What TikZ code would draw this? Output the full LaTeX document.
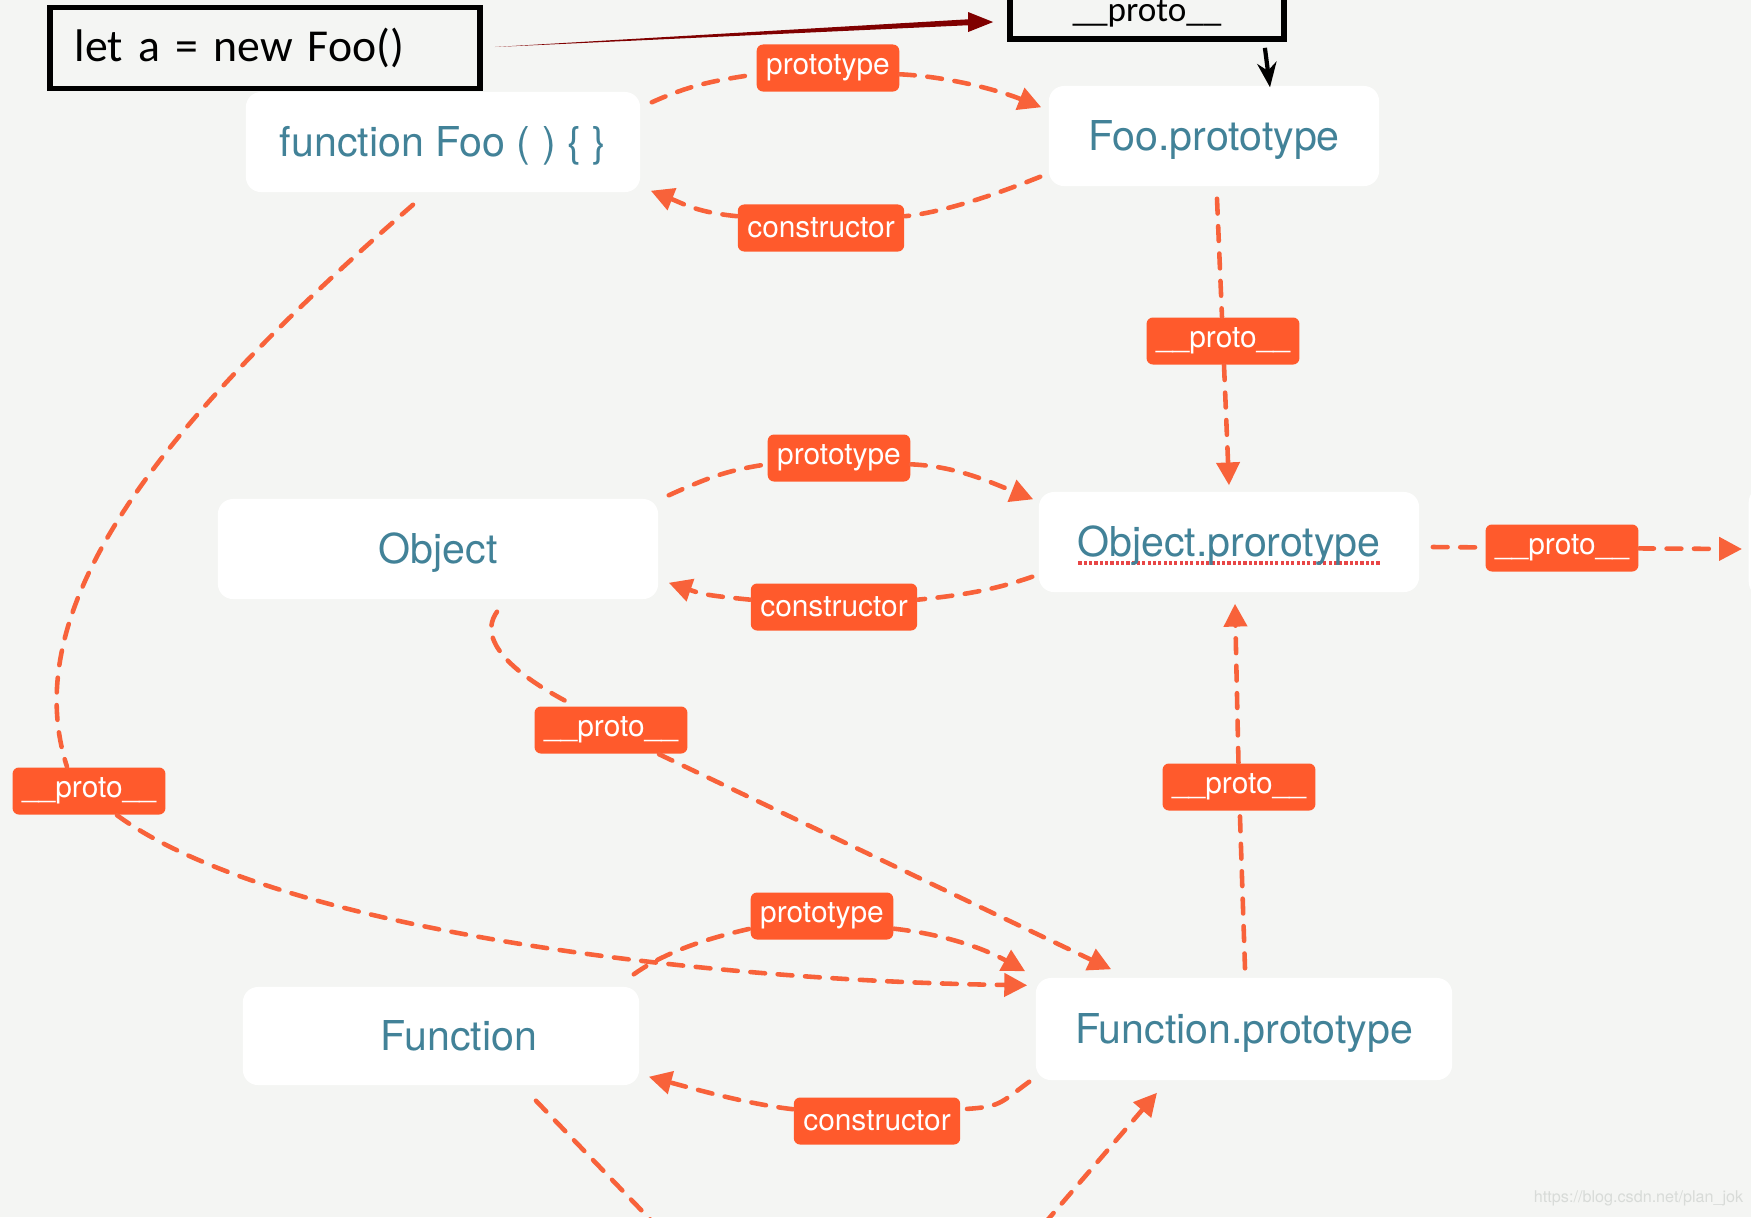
\documentclass[tikz,border=0pt]{standalone}
\usepackage{fontspec}
\usetikzlibrary{arrows.meta,calc}

\newfontfamily\heros{TeX Gyre Heros}
\newfontfamily\calib{Carlito}

\definecolor{bgGray}{RGB}{244,245,243}
\definecolor{boxTeal}{RGB}{66,130,152}
\definecolor{tagOrange}{RGB}{255,90,44}
\definecolor{linkOrange}{RGB}{248,98,58}
\definecolor{arrowRed}{RGB}{128,0,0}
\definecolor{spellRed}{RGB}{232,70,70}
\definecolor{markGray}{RGB}{216,219,216}

% red dotted spell-check underline
\newcommand\spelldots[1]{\setbox0\hbox{#1}\rlap{\raisebox{-2.3pt}{\textcolor{spellRed}{\hbox to \wd0{\xleaders\hbox to 1.5pt{\hss\rule{0.9pt}{0.9pt}\hss}\hfill}}}}\box0}

\tikzset{
  objbox/.style={fill=white, rounded corners=4.3pt, inner sep=0pt, text=boxTeal,
    font=\heros\fontsize{11.7}{14}\selectfont, minimum height=1cm,
    text height=8.2pt, text depth=0pt},
  edgetag/.style={fill=tagOrange, rounded corners=1.8pt, text=white, inner xsep=0.095cm,
    inner ysep=0pt, minimum height=0.47cm, font=\heros\fontsize{8.5}{10}\selectfont},
  linkline/.style={draw=linkOrange, line width=1.3pt, line cap=round,
    dash pattern=on 4.2pt off 3.6pt},
  linkarrow/.style={linkline, -{Triangle[length=6.5pt,width=6.5pt]}},
  codebox/.style={draw=black, line width=1.6pt, fill=bgGray, inner sep=0pt}
}

\begin{document}
\begin{tikzpicture}[x=0.01cm, y=-0.01cm]
  \useasboundingbox[fill=bgGray] (0,0) rectangle (1751,1217);
  \clip (0,0) rectangle (1751,1217);

  % Object boxes
  \node[objbox, minimum width=3.94cm] (fooFn) at (443,142) {function Foo ( ) \{ \}};
  \node[objbox, minimum width=3.3cm] (fooProto) at (1214,136) {Foo.prototype};
  \node[objbox, minimum width=4.4cm] (obj) at (438,549) {Object};
  \node[objbox, minimum width=3.8cm] (objProto) at (1229,542) {\spelldots{Object.prorotype}};
  \node[objbox, minimum width=3.96cm, minimum height=0.98cm] (fn) at (441,1036) {\hspace*{0.36cm}Function};
  \node[objbox, minimum width=4.16cm, minimum height=1.02cm] (fnProto) at (1244,1029) {Function.prototype};
  \node[objbox, minimum width=3cm, minimum height=1.1cm, anchor=west] (nextBox) at (1748,542) {};

  % Labels on the links
  \node[edgetag] (tagA) at (828,68) {prototype};
  \node[edgetag] (tagB) at (821,228) {constructor};
  \node[edgetag] (tagC) at (1223,341) {\_\_proto\_\_};
  \node[edgetag] (tagD) at (839,458) {prototype};
  \node[edgetag] (tagE) at (834,607) {constructor};
  \node[edgetag] (tagF) at (1562,548) {\_\_proto\_\_};
  \node[edgetag] (tagG) at (611,730) {\_\_proto\_\_};
  \node[edgetag] (tagH) at (1239,787) {\_\_proto\_\_};
  \node[edgetag] (tagI) at (822,916) {prototype};
  \node[edgetag] (tagJ) at (877,1121) {constructor};
  \node[edgetag] (tagK) at (89,791) {\_\_proto\_\_};

  % Foo and Foo.prototype
  \draw[linkline] ($(fooFn.north east)+(11,11)$) .. controls +(40,-18) and +(-40,6) .. (tagA.185);
  \draw[linkarrow] (tagA.-5) .. controls +(45,2) and +(-45,-18) .. ($(fooProto.north west)+(-7,22)$);
  \draw[linkline] ($(fooProto.south west)+(-8,-10)$) .. controls +(-40,16) and +(40,-4) .. (tagB.8);
  \draw[linkarrow] (tagB.172) .. controls +(-40,-4) and +(35,14) .. ($(fooFn.south east)+(10,-2)$);

  % Foo.prototype up the chain
  \draw[linkline] ($(fooProto.south)+(3,12)$) -- (tagC);
  \draw[linkarrow] (tagC) -- ($(objProto.north)+(0,-6)$);

  % Object and Object.prototype
  \draw[linkline] ($(obj.north east)+(10,-3)$) .. controls +(40,-18) and +(-40,6) .. (tagD.185);
  \draw[linkarrow] (tagD.-5) .. controls +(45,2) and +(-45,-18) .. ($(objProto.north west)+(-5,8)$);
  \draw[linkline] ($(objProto.south west)+(-6,-16)$) .. controls +(-40,14) and +(40,-4) .. (tagE.5);
  \draw[linkarrow] (tagE.175) .. controls +(-40,-4) and +(35,12) .. ($(obj.south east)+(10,-17)$);

  % Object.prototype onward
  \draw[linkline] ($(objProto.east)+(13,5)$) -- (tagF);
  \draw[linkarrow] (tagF) -- ($(nextBox.west)+(-6,7)$);

  % Object to Function.prototype
  \draw[linkline] ($(obj.south)+(59,12)$) .. controls +(-25,35) and +(-40,-20) .. ($(tagG.north)+(-36,0)$);
  \draw[linkarrow] ($(tagG.south)+(48,0)$) -- ($(fnProto.north west)+(76,-8)$);

  % Function.prototype to Object.prototype
  \draw[linkline] ($(fnProto.north)+(1,-9)$) -- (tagH);
  \draw[linkarrow] (tagH) -- ($(objProto.south)+(6,11)$);

  % Function and Function.prototype
  \draw[linkline] ($(fn.north east)+(-6,-12)$) .. controls +(35,-25) and +(-35,8) .. (tagI.190);
  \draw[linkarrow] (tagI.-10) .. controls +(45,5) and +(-45,-25) .. ($(fnProto.north west)+(-10,-6)$);
  \draw[linkline] ($(fnProto.south west)+(-6,1)$) .. controls +(-30,22) and +(40,-2) .. (tagJ.8);
  \draw[linkarrow] (tagJ.172) .. controls +(-45,-5) and +(45,12) .. ($(fn.south east)+(9,-9)$);

  % function Foo to Function.prototype
  \draw[linkline] ($(fooFn.south)+(-30,12)$) .. controls +(-230,200) and +(-55,-170) .. ($(tagK.north)+(-22,0)$);
  \draw[linkarrow] ($(tagK.south)+(28,0)$) .. controls +(150,110) and +(-350,-5) .. ($(fnProto.north west)+(-8,8)$);

  % Function down, and back up to Function.prototype
  \coordinate (offA) at (670,1240);
  \coordinate (offB) at (1026,1245);
  \draw[linkline] ($(fn.south)+(95,15)$) -- (offA);
  \draw[linkarrow] (offB) -- ($(fnProto.south)+(-87,12)$);

  % Code boxes
  \node[codebox, minimum height=0.81cm, text width=3.8cm, inner xsep=0.25cm, align=left,
    font=\calib\fontsize{13}{15}\selectfont] (letBox) at (265,48) {let a = new Foo()};
  \node[codebox, minimum width=2.74cm, minimum height=0.46cm, text height=4.5pt,
    font=\calib\fontsize{10}{12}\selectfont] (protoTop) at (1147,16) {\_\_proto\_\_};

  % Red arrow from the code to __proto__
  \coordinate (redA) at ($(letBox.east)+(12,-1)$);
  \coordinate (redB) at ($(protoTop.west)+(-14,6)$);
  \fill[arrowRed] (redA) -- ($(redB)+(-20,-3)$) -- ($(redB)+(-20,3)$) -- cycle;
  \fill[arrowRed] (redB) -- ($(redB)+(-25,-10)$) -- ($(redB)+(-25,10)$) -- cycle;

  % Black arrow from __proto__ to Foo.prototype
  \draw[-{Stealth[length=7pt,width=5.5pt]}, line width=1.2pt]
    ($(protoTop.south east)+(-22,6)$) -- ($(fooProto.north)+(56,2)$);

  % Watermark
  \node[anchor=east, inner sep=0pt, text=markGray, font=\heros\fontsize{4.6}{5}\selectfont]
    (mark) at (1744,1198) {https://blog.csdn.net/plan\_jok};
\end{tikzpicture}
\end{document}
